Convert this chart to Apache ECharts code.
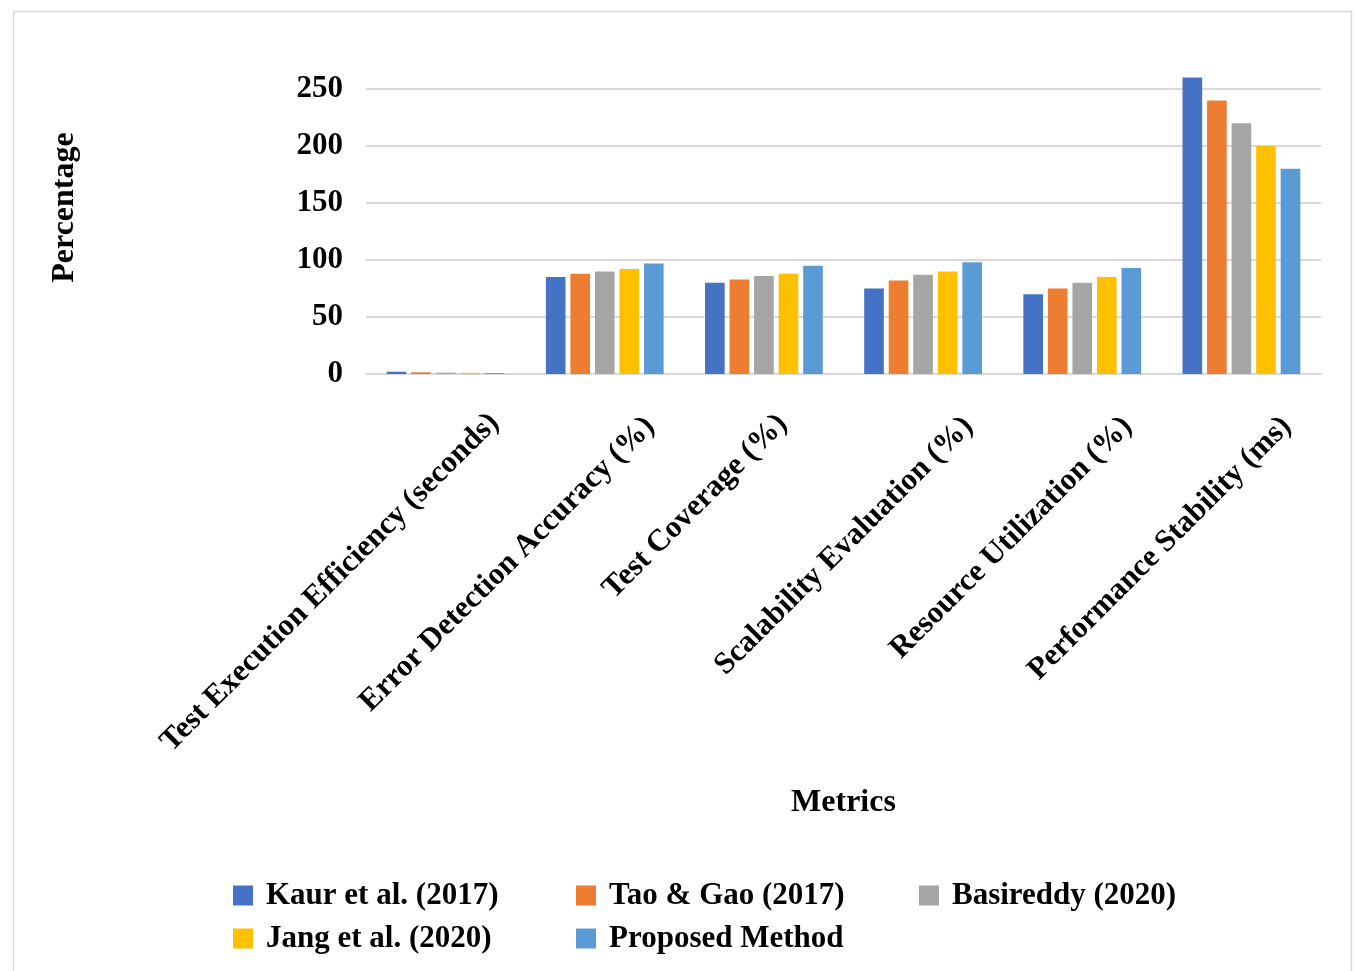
<!DOCTYPE html>
<html>
<head>
<meta charset="utf-8">
<script src="https://cdn.jsdelivr.net/npm/echarts@6.0.0/dist/echarts.min.js"></script>
<style>
  html, body { margin: 0; padding: 0; background: #fff; }
  #chart { width: 1355px; height: 971px; }
</style>
</head>
<body>
<div id="chart"></div>
<script>
// chart data
const metrics = [
  "Test Execution Efficiency (seconds)",
  "Error Detection Accuracy (%)",
  "Test Coverage (%)",
  "Scalability Evaluation (%)",
  "Resource Utilization (%)",
  "Performance Stability (ms)"
];
const kaur2017 = [2, 85, 80, 75, 70, 260];
const taoGao2017 = [1.5, 88, 83, 82, 75, 240];
const basireddy2020 = [1.2, 90, 86, 87, 80, 220];
const jang2020 = [1, 92, 88, 90, 85, 200];
const proposed = [0.8, 97, 95, 98, 93, 180];
const yTicks = [0, 50, 100, 150, 200, 250];

const seriesNames = ["Kaur et al. (2017)", "Tao & Gao (2017)", "Basireddy (2020)", "Jang et al. (2020)", "Proposed Method"];
const seriesData = [kaur2017, taoGao2017, basireddy2020, jang2020, proposed];
const colors = ["#4472C4", "#ED7D31", "#A5A5A5", "#FFC000", "#5B9BD5"];

const serif = "'Liberation Serif', 'Times New Roman', serif";

// excel places the rotated labels a little unevenly, nudge them per category
const labelShift = [-69, -64, -47, -64, -64, -64];

const chart = echarts.init(document.getElementById("chart"));

chart.setOption({
  animation: false,
  color: colors,
  textStyle: { fontFamily: serif },
  graphic: [{
    type: "rect",
    left: 11, top: 9,
    shape: { width: 1338, height: 975 },
    style: { fill: "none", stroke: "#d9d9d9", lineWidth: 1.5 }
  }],
  grid: { left: 366, right: 34, top: 89, bottom: 597, containLabel: false },
  legend: {
    left: 233, top: 879, width: 1060,
    padding: 0,
    itemWidth: 20, itemHeight: 20, itemGap: 10,
    icon: "rect",
    textStyle: {
      fontFamily: serif, fontWeight: "bold", fontSize: 31, color: "#000",
      width: 300, lineHeight: 33, padding: [0, 0, 0, 8]
    },
    data: seriesNames
  },
  xAxis: {
    type: "category",
    data: metrics.map((m, i) => ({
      value: m,
      textStyle: i === 2
        ? { padding: [0, labelShift[i], 0, 0], lineHeight: 41 }
        : { padding: [0, labelShift[i], 0, 0] }
    })),
    name: "Metrics",
    nameLocation: "middle",
    nameGap: 413,
    nameTextStyle: { fontFamily: serif, fontWeight: "bold", fontSize: 32, color: "#000" },
    axisLine: { lineStyle: { color: "#d9d9d9", width: 2 } },
    axisTick: { show: false },
    axisLabel: {
      interval: 0, rotate: 45, margin: 93,
      fontFamily: serif, fontWeight: "bold", fontSize: 31, color: "#000",
      // the third label sits higher in the original
      formatter: (v, i) => (i === 2 ? v + "\n" : v)
    }
  },
  yAxis: {
    type: "value",
    min: yTicks[0], max: yTicks[yTicks.length - 1], interval: 50,
    name: "Percentage",
    nameLocation: "middle",
    nameGap: 285,
    nameRotate: 90,
    nameTextStyle: { fontFamily: serif, fontWeight: "bold", fontSize: 32, color: "#000", padding: [0, 0, 0, 48] },
    axisLine: { show: false },
    axisTick: { show: false },
    axisLabel: { margin: 23, fontFamily: serif, fontWeight: "bold", fontSize: 31, color: "#000" },
    splitLine: { lineStyle: { color: "#d9d9d9", width: 2 } }
  },
  series: seriesNames.map((name, i) => ({
    name,
    type: "bar",
    data: seriesData[i],
    clip: false,
    barGap: "25%",
    barCategoryGap: "26%"
  }))
});
</script>
</body>
</html>
